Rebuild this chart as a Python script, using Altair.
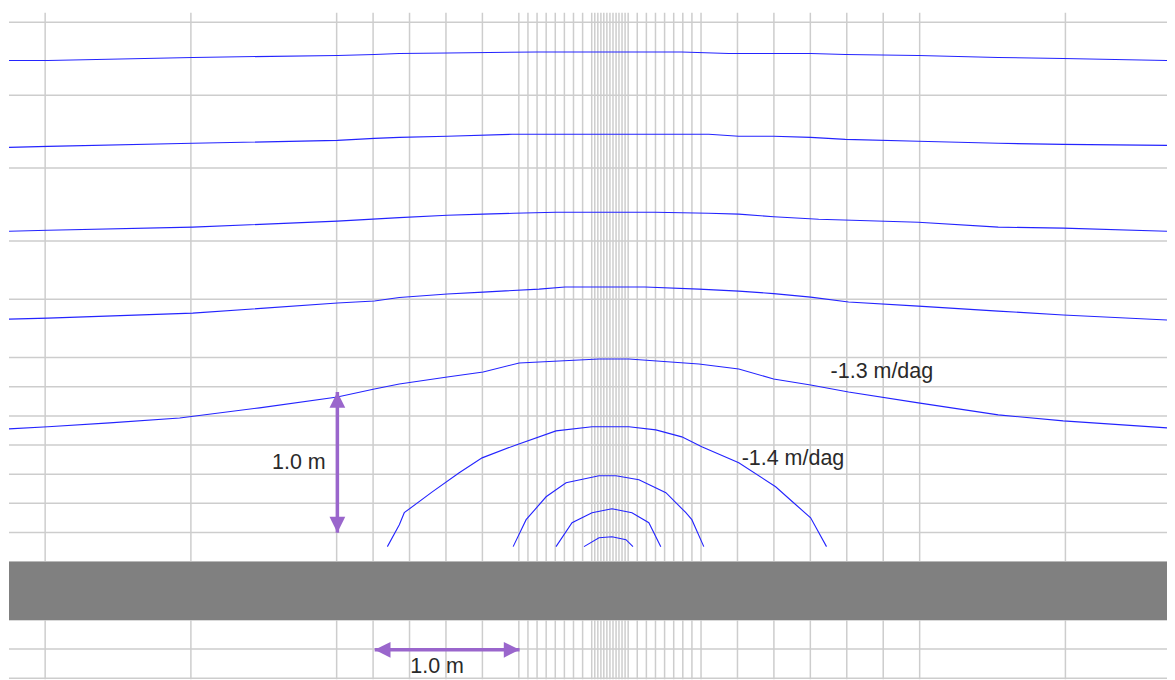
import altair as alt
import pandas as pd

# ---- data (metres) ----
grid_x = [-3.875, -2.875, -1.875, -1.625, -1.375, -1.125, -0.875, -0.625, -0.5625, -0.5,
          -0.4375, -0.375, -0.3125, -0.25, -0.1875, -0.125, -0.104, -0.083, -0.062, -0.042,
          -0.021, 0.0, 0.021, 0.042, 0.062, 0.083, 0.104, 0.125, 0.1875, 0.25, 0.3125, 0.375,
          0.4375, 0.5, 0.5625, 0.625, 0.875, 1.125, 1.375, 1.625, 1.875, 2.125, 3.125]
grid_y = [3.7, 3.2, 2.7, 2.2, 1.8, 1.4, 1.2, 1.0, 0.8, 0.6, 0.4, 0.2, 0.0, -0.2, -0.4, -0.6, -0.8]

x_domain = [-4.123, 3.822]
y_domain = [-0.808, 3.767]

bar_x = [-4.123, 3.822]
bar_y = [0.0, -0.4]

c1_x = [-4.123, -3.856, -2.863, -1.870, -1.616, -1.445, -1.116, -0.5, 0, 0.493, 0.815, 1.123, 1.377, 1.616, 2.116, 2.664, 3.110, 3.822]
c1_y = [3.438, 3.438, 3.459, 3.473, 3.479, 3.486, 3.490, 3.497, 3.497, 3.497, 3.486, 3.486, 3.486, 3.479, 3.473, 3.459, 3.452, 3.438]
c2_x = [-4.123, -3.856, -2.863, -1.870, -1.616, -1.445, -1.116, -0.671, 0, 0.678, 0.884, 1.123, 1.377, 1.616, 2.116, 2.664, 3.110, 3.822]
c2_y = [2.842, 2.849, 2.870, 2.890, 2.904, 2.911, 2.918, 2.932, 2.932, 2.932, 2.918, 2.918, 2.911, 2.897, 2.884, 2.870, 2.863, 2.856]
c3_x = [-4.123, -3.856, -2.863, -1.870, -1.445, -1.116, -0.870, -0.664, -0.370, 0, 0.308, 0.678, 0.884, 1.123, 1.432, 2.116, 2.664, 3.110, 3.822]
c3_y = [2.267, 2.274, 2.295, 2.336, 2.360, 2.377, 2.384, 2.390, 2.397, 2.397, 2.397, 2.390, 2.384, 2.366, 2.349, 2.329, 2.295, 2.288, 2.267]
c4_x = [-4.123, -3.856, -2.863, -1.870, -1.616, -1.445, -1.116, -0.870, -0.486, -0.308, 0, 0.240, 0.610, 0.884, 1.123, 1.377, 1.637, 2.116, 2.664, 3.110, 3.822]
c4_y = [1.664, 1.671, 1.705, 1.774, 1.788, 1.812, 1.836, 1.849, 1.870, 1.884, 1.884, 1.884, 1.870, 1.856, 1.839, 1.815, 1.781, 1.753, 1.719, 1.692, 1.658]
c5_x = [-4.123, -3.856, -3.432, -2.952, -2.404, -1.870, -1.616, -1.445, -1.116, -0.870, -0.623, -0.349, -0.075, 0.130, 0.610, 0.884, 1.123, 1.377, 1.637, 2.116, 2.664, 3.110, 3.822]
c5_y = [0.911, 0.925, 0.952, 0.986, 1.055, 1.130, 1.185, 1.219, 1.267, 1.301, 1.363, 1.377, 1.390, 1.390, 1.356, 1.322, 1.253, 1.212, 1.164, 1.089, 1.007, 0.966, 0.918]
c6_x = [-1.527, -1.445, -1.411, -1.219, -1.034, -0.877, -0.644, -0.370, -0.123, 0.130, 0.315, 0.493, 0.630, 0.884, 1.137, 1.260, 1.377, 1.486]
c6_y = [0.103, 0.253, 0.336, 0.479, 0.610, 0.712, 0.801, 0.897, 0.925, 0.925, 0.904, 0.856, 0.788, 0.678, 0.514, 0.404, 0.301, 0.103]
c7_x = [-0.664, -0.575, -0.438, -0.301, -0.075, 0.041, 0.199, 0.384, 0.521, 0.562, 0.644]
c7_y = [0.103, 0.288, 0.445, 0.541, 0.589, 0.589, 0.562, 0.473, 0.336, 0.288, 0.103]
c8_x = [-0.370, -0.260, -0.123, 0.014, 0.151, 0.267, 0.349]
c8_y = [0.103, 0.267, 0.336, 0.363, 0.336, 0.267, 0.103]
c9_x = [-0.178, -0.075, 0.014, 0.110, 0.158]
c9_y = [0.103, 0.164, 0.171, 0.151, 0.103]

# arrows: (x1, y1, x2, y2)
arrow_v = [-1.870, 1.164, -1.870, 0.199]
arrow_h = [-1.614, -0.605, -0.620, -0.605]

label_text = ["-1.3 m/dag", "-1.4 m/dag", "1.0 m", "1.0 m"]
label_x = [1.514, 0.904, -2.318, -1.370]
label_y = [1.301, 0.705, 0.678, -0.726]

# ---- build tables ----
rows = []
for i, (xs, ys) in enumerate([(c1_x, c1_y), (c2_x, c2_y), (c3_x, c3_y), (c4_x, c4_y), (c5_x, c5_y),
                              (c6_x, c6_y), (c7_x, c7_y), (c8_x, c8_y), (c9_x, c9_y)]):
    for j, (a, b) in enumerate(zip(xs, ys)):
        rows.append({"line": i, "ord": j, "x": a, "y": b})
contours = pd.DataFrame(rows)

xs = alt.Scale(domain=x_domain, nice=False, zero=False)
ys = alt.Scale(domain=y_domain, nice=False, zero=False)
X = lambda f: alt.X(f, type="quantitative", scale=xs, axis=None)
Y = lambda f: alt.Y(f, type="quantitative", scale=ys, axis=None)

grid_col = "#cdcdcd"
vgrid = alt.Chart(pd.DataFrame({"x": grid_x})).mark_rule(color=grid_col, strokeWidth=1.5, clip=True).encode(x=X("x"))
hgrid = alt.Chart(pd.DataFrame({"y": grid_y})).mark_rule(color=grid_col, strokeWidth=1.5, clip=True).encode(y=Y("y"))

bar = alt.Chart(pd.DataFrame({"x": [bar_x[0]], "x2": [bar_x[1]], "y": [bar_y[0]], "y2": [bar_y[1]]})).mark_rect(
    color="#808080", clip=True).encode(x=X("x"), x2="x2", y=Y("y"), y2="y2")

lines = alt.Chart(contours).mark_line(color="#2424ff", strokeWidth=1.1, clip=True).encode(
    x=X("x"), y=Y("y"), detail="line:N", order="ord:Q")

purple = "#9a66cc"
shafts = pd.DataFrame({
    "x": [arrow_v[0], arrow_h[0]], "y": [arrow_v[1], arrow_h[1]],
    "x2": [arrow_v[2], arrow_h[2]], "y2": [arrow_v[3], arrow_h[3]]})
shaft = alt.Chart(shafts).mark_rule(color=purple, strokeWidth=3.5).encode(
    x=X("x"), y=Y("y"), x2="x2", y2="y2")

tip = "M0,0 L-0.5,1 L0.5,1 Z"
heads = pd.DataFrame({
    "x": [arrow_v[0], arrow_v[2], arrow_h[0], arrow_h[2]],
    "y": [arrow_v[1], arrow_v[3], arrow_h[1], arrow_h[3]],
    "ang": [0, 180, 270, 90]})
head = alt.Chart(heads).mark_point(shape=tip, filled=True, color=purple, opacity=1, size=1000, strokeWidth=0).encode(
    x=X("x"), y=Y("y"), angle=alt.Angle("ang:Q", scale=None))

labels = alt.Chart(pd.DataFrame({"t": label_text, "x": label_x, "y": label_y})).mark_text(
    align="left", baseline="middle", font="Liberation Sans", fontSize=21.5, color="#2a2a2a").encode(
    x=X("x"), y=Y("y"), text="t:N")

chart = alt.layer(vgrid, hgrid, bar, lines, shaft, head, labels).properties(
    width=1160, height=668,
    autosize=alt.AutoSizeParams(type="none"),
    padding={"left": 1, "top": 4, "right": 0, "bottom": 0},
).configure_view(stroke=None)

chart.save("out.html", embed_options={"renderer": "svg", "actions": False})
